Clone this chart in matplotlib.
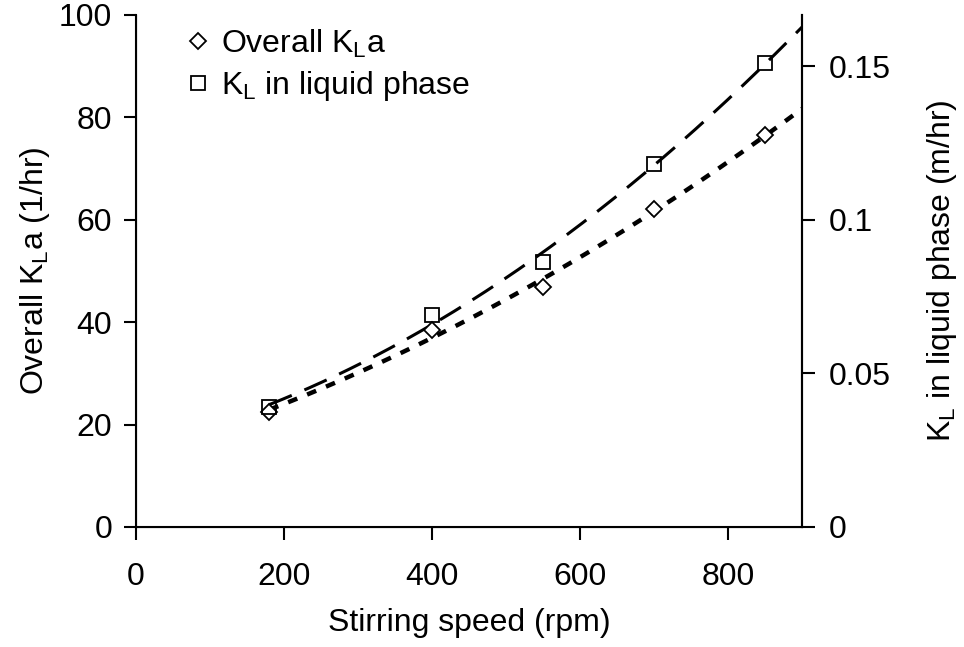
import numpy as np
import matplotlib
matplotlib.use("Agg")
import matplotlib.pyplot as plt

plt.rcParams['font.family'] = ['Liberation Sans', 'DejaVu Sans']
plt.rcParams['mathtext.default'] = 'regular'

# data
speed = [180, 400, 550, 700, 850]              # rpm
kla = [22.5, 38.5, 46.8, 62.0, 76.5]           # overall KLa (1/hr)
kl = [0.039, 0.069, 0.0863, 0.1182, 0.151]     # KL in liquid phase (m/hr)
scale = 600  # right axis max 0.1667 <-> left axis 100

fs = 23

fig = plt.figure(figsize=(9.64, 6.47), dpi=100)
ax = fig.add_axes([0.141, 0.1855, 0.691, 0.7915])

# trendlines (quadratic fits to the points)
xs = np.linspace(180, 900, 200)
p1 = np.polyfit(speed, kla, 2)
p2 = np.polyfit(speed, np.array(kl) * scale, 2)
ax.plot(xs, np.polyval(p1, xs), color='black', lw=3.2, dashes=(2.2, 2.4))
ax.plot(xs, np.polyval(p2, xs), color='black', lw=2.2, dashes=(8, 4.5))

ax.plot(speed, kla, 'D', ms=8, mfc='white', mec='black', mew=1.3,
        label=r'Overall K$_L$a')
ax.plot(speed, np.array(kl) * scale, 's', ms=10, mfc='none', mec='black',
        mew=1.3, label=r'K$_L$ in liquid phase')

ax.set_xlim(0, 900)
ax.set_ylim(0, 100)
ax.set_xticks([0, 200, 400, 600, 800])
ax.set_yticks([0, 20, 40, 60, 80, 100])
ax.set_xlabel('Stirring speed (rpm)', fontsize=fs, labelpad=12)
ax.set_ylabel(r'Overall K$_L$a (1/hr)', fontsize=fs, labelpad=5)
ax.tick_params(labelsize=fs, length=9, width=1.5, direction='out')
ax.tick_params(axis='x', pad=16)
ax.tick_params(axis='y', pad=8)
ax.spines['top'].set_visible(False)
for s in ['left', 'bottom', 'right']:
    ax.spines[s].set_linewidth(1.5)

ax2 = ax.twinx()
ax2.set_ylim(0, 100 / scale)
ax2.set_yticks([0, 0.05, 0.1, 0.15])
ax2.set_yticklabels(['0', '0.05', '0.1', '0.15'])
ax2.tick_params(labelsize=fs, length=9, width=1.5, direction='out', pad=10)
ax2.set_ylabel(r'K$_L$ in liquid phase (m/hr)', fontsize=fs, labelpad=25)
ax2.spines['top'].set_visible(False)
ax2.spines['right'].set_linewidth(1.5)

ax.legend(loc='upper left', bbox_to_anchor=(0.06, 1.0), frameon=False,
          fontsize=fs, handlelength=0.6, handletextpad=0.4,
          labelspacing=0.3, borderaxespad=0)

fig.savefig('out.png', dpi=100)
